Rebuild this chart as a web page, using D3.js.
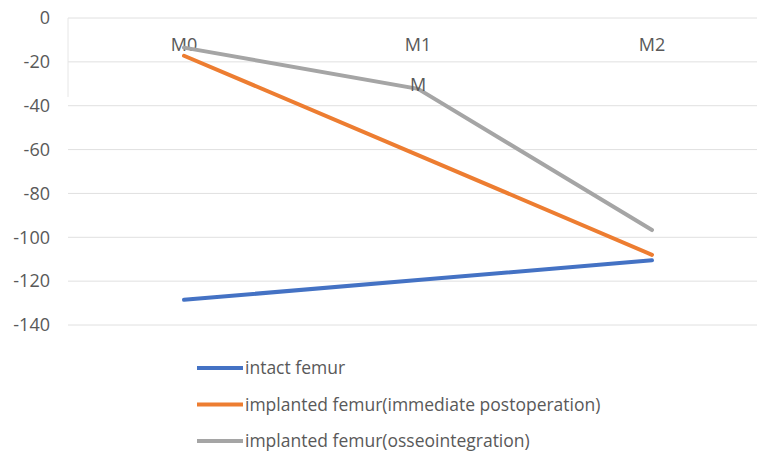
<!DOCTYPE html>
<html><head><meta charset="utf-8">
<script src="https://cdn.jsdelivr.net/npm/d3@7"></script>
<style>body{margin:0;background:#fff}svg{display:block}text{font-family:"Open Sans","Noto Sans",sans-serif}</style>
</head><body><svg id="c" width="757" height="454"></svg>
<script>
const categories = ["M0","M1","M2"];
const seriesNames = ["intact femur","implanted femur(immediate postoperation)","implanted femur(osseointegration)"];
const intact = [-128.5, -119.5, -110.5];
const immediate = [-17.2, -62.5, -108];
const osseo = [-13.5, -32.3, -96.7];
const yTicks = [0,-20,-40,-60,-80,-100,-120,-140];
const colors = ["#4472C4","#ED7D31","#A5A5A5"];
const series = [intact, immediate, osseo];

const svg = d3.select("#c");
const x = d3.scalePoint().domain(categories).range([184, 652]);
const y = d3.scaleLinear().domain([-140, 0]).range([325, 18]);

// gridlines
svg.append("g").selectAll("line").data(yTicks).join("line")
  .attr("x1", 68).attr("x2", 757)
  .attr("y1", d => y(d)).attr("y2", d => y(d))
  .attr("stroke", "#e0e0e0").attr("stroke-width", 1);
svg.append("line").attr("x1",68).attr("x2",68).attr("y1",y(0)).attr("y2",y(-36))
  .attr("stroke","#e6e6e6");

// y labels
svg.append("g").selectAll("text").data(yTicks).join("text")
  .attr("x", 50).attr("y", d => y(d)).attr("dy", "0.35em")
  .attr("text-anchor", "end").attr("font-size", 18).attr("fill", "#595959")
  .text(d => d);

// category labels
svg.append("g").selectAll("text").data(categories).join("text")
  .attr("x", d => x(d)).attr("y", y(0) + 33)
  .attr("text-anchor", "middle").attr("font-size", 18).attr("fill", "#595959")
  .text(d => d);

// lines
const line = d3.line().x((d,i) => x(categories[i])).y(d => y(d));
series.forEach((s, k) => {
  svg.append("path").datum(s).attr("d", line)
    .attr("fill", "none").attr("stroke", colors[k]).attr("stroke-width", 4)
    .attr("stroke-linecap", "round");
});

// stray data label
svg.append("text").attr("x", x("M1")).attr("y", y(osseo[1]) + 2)
  .attr("text-anchor","middle").attr("font-size",18).attr("fill","#595959").text("M");

// legend
const lg = svg.append("g").selectAll("g").data(seriesNames).join("g")
  .attr("transform", (d,i) => `translate(197,${368 + i*36.5})`);
lg.append("line").attr("x1",0).attr("x2",46).attr("y1",0).attr("y2",0)
  .attr("stroke",(d,i)=>colors[i]).attr("stroke-width",4);
lg.append("text").attr("x",48).attr("dy","0.35em").attr("font-size",17.5)
  .attr("fill","#595959").text(d=>d);
</script></body></html>
